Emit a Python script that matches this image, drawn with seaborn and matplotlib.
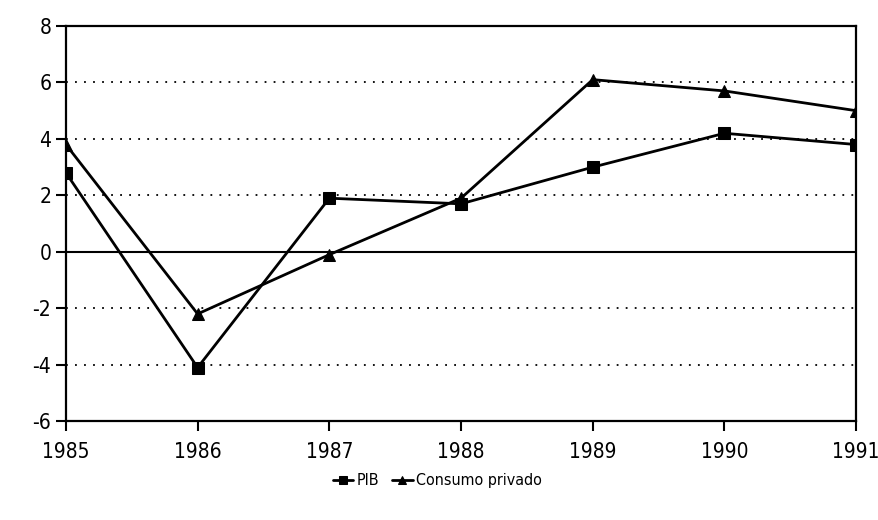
import matplotlib
matplotlib.use('Agg')
import matplotlib.pyplot as plt
import pandas as pd
import seaborn as sns

# Data (annual growth, %)
years = [1985, 1986, 1987, 1988, 1989, 1990, 1991]
pib = [2.8, -4.1, 1.9, 1.7, 3.0, 4.2, 3.8]
consumo = [3.8, -2.2, -0.1, 1.9, 6.1, 5.7, 5.0]
series_names = ['PIB', 'Consumo privado']
y_ticks = [-6, -4, -2, 0, 2, 4, 6, 8]
dotted_levels = [-4, -2, 2, 4, 6]

df = pd.DataFrame({
    'year': years * 2,
    'value': pib + consumo,
    'serie': [series_names[0]] * len(years) + [series_names[1]] * len(years),
})

sns.set_style('white')
plt.rcParams['font.family'] = ['DejaVu Sans']
plt.rcParams['font.stretch'] = 'condensed'
plt.rcParams['axes.unicode_minus'] = False
plt.rcParams['text.color'] = 'black'

fig, ax = plt.subplots(figsize=(8.79, 5.2), dpi=100)
fig.subplots_adjust(left=0.075, right=0.974, top=0.95, bottom=0.19)

# dotted grid and solid zero line
for lv in dotted_levels:
    ax.axhline(lv, color='black', linestyle=(0, (1, 4)), linewidth=1.3, zorder=1)
ax.axhline(0, color='black', linewidth=1.5, zorder=1)

sns.lineplot(data=df, x='year', y='value', hue='serie', style='serie',
             palette=['black', 'black'], markers=['s', '^'], dashes=False,
             markersize=8, linewidth=2.0, markeredgecolor='black', ax=ax, zorder=3)

ax.set_xlim(years[0], years[-1])
ax.set_ylim(-6, 8)
ax.set_xticks(years)
ax.set_yticks(y_ticks)
ax.set_xlabel('')
ax.set_ylabel('')
ax.tick_params(axis='both', labelsize=15, colors='black', direction='out',
               length=7, width=1.5, left=True, bottom=True)
ax.tick_params(axis='x', pad=8)
for sp in ax.spines.values():
    sp.set_visible(True)
    sp.set_color('black')
    sp.set_linewidth(1.6)

leg = ax.legend(loc='upper center', bbox_to_anchor=(0.47, -0.095), ncol=2, frameon=False,
                fontsize=11.5, handlelength=1.3, handletextpad=0.2, columnspacing=0.8,
                markerscale=0.75)
for t in leg.get_texts():
    t.set_color('black')

fig.savefig('out.png', dpi=100)
